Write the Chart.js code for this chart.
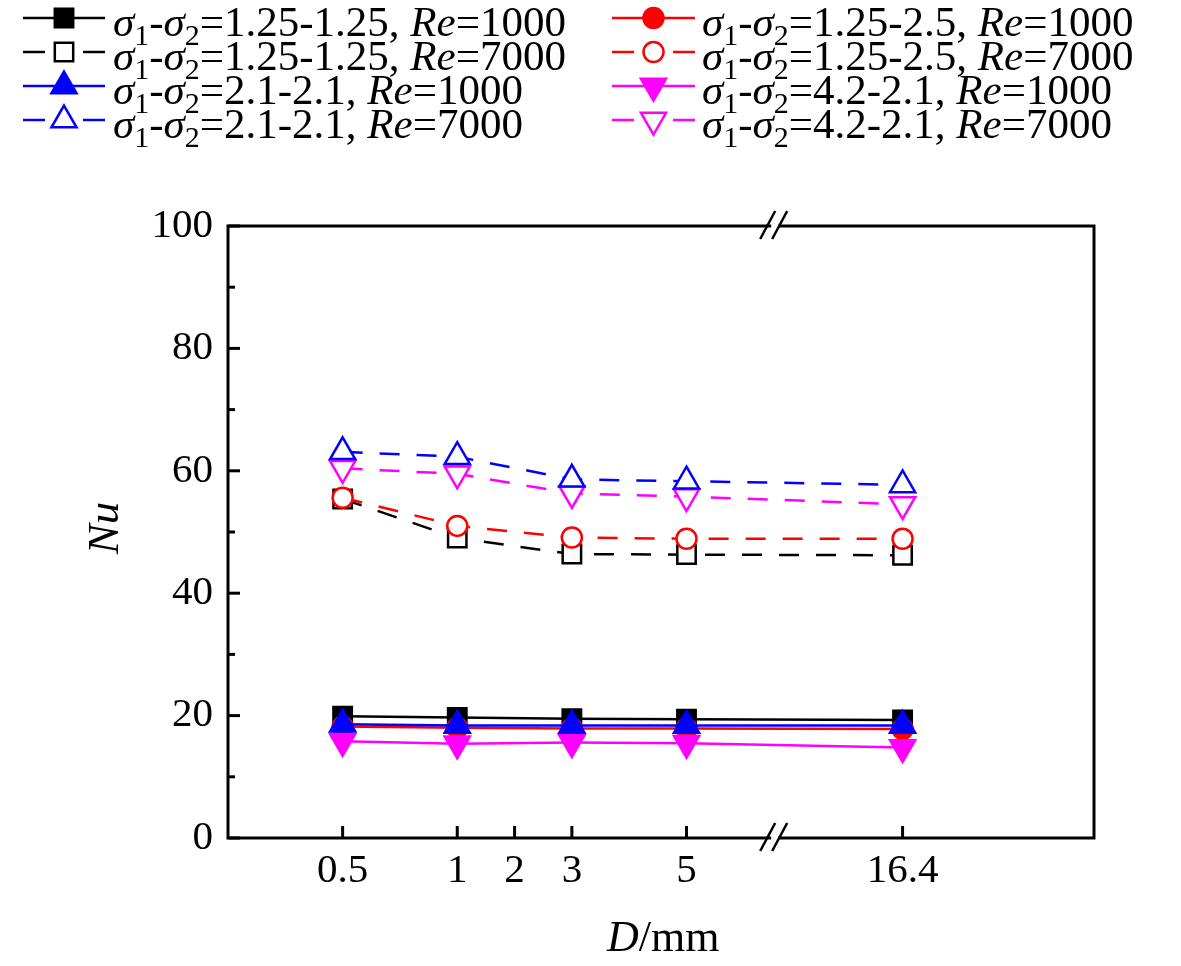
<!DOCTYPE html>
<html>
<head>
<meta charset="utf-8">
<script src="https://cdn.jsdelivr.net/npm/chart.js@4.4.0/dist/chart.umd.min.js"></script>
<style>
  html, body { margin:0; padding:0; background:#fff; }
  #wrap { width:1181px; height:966px; }
</style>
</head>
<body>
<div id="wrap"><canvas id="nuChart" width="1181" height="966"></canvas></div>
<script>
// D values (mm) and the broken x axis
const dValues = [0.5, 1, 3, 5, 16.4];
const tickLabels = ["0.5", "1", "2", "3", "5", "16.4"];
const tickPos = [2, 4, 5, 6, 8, 11.77];   // positions on the broken axis
const breakPos = 9.53;
const xMax = 15.11;

// Nu values
const nuA1000 = [19.9, 19.7, 19.5, 19.4, 19.3];   // 1.25-1.25
const nuA7000 = [55.4, 49.0, 46.4, 46.3, 46.2];
const nuB1000 = [18.6, 18.4, 18.4, 18.4, 18.4];   // 2.1-2.1
const nuB7000 = [63.1, 62.3, 58.6, 58.3, 57.7];
const nuC1000 = [18.2, 18.0, 17.9, 17.9, 17.8];   // 1.25-2.5
const nuC7000 = [55.6, 51.0, 49.1, 48.9, 48.9];
const nuD1000 = [15.8, 15.4, 15.6, 15.5, 14.8];   // 4.2-2.1
const nuD7000 = [60.4, 59.5, 56.3, 55.8, 54.5];

const yTicks = [0, 20, 40, 60, 80, 100];

const FONT = '"Liberation Serif", "Times New Roman", serif';

function pts(vals){
  return vals.map((v,i) => ({ x: tickPos[tickLabels.indexOf(String(dValues[i]))], y: v }));
}

function ds(label, sig, re, vals, color, style, open, order, rot){
  const dashed = re === "7000";
  return {
    label: label, sig: sig, re: re,
    data: pts(vals),
    borderColor: color,
    backgroundColor: open ? "#ffffff" : color,
    pointBorderColor: color,
    pointBackgroundColor: open ? "#ffffff" : color,
    pointStyle: style,
    pointRotation: rot || 0,
    pointRadius: style === "rect" ? 13 : (style === "circle" ? 10 : 14.5),
    pointHoverRadius: 12,
    pointBorderWidth: 2.5,
    borderWidth: 2.5,
    borderDash: dashed ? [20, 17] : [],
    tension: 0,
    fill: false,
    order: order
  };
}

const datasets = [
  ds("σ1-σ2=1.25-1.25, Re=1000", "1.25-1.25", "1000", nuA1000, "#000000", "rect", false, 4),
  ds("σ1-σ2=1.25-1.25, Re=7000", "1.25-1.25", "7000", nuA7000, "#000000", "rect", true, 4),
  ds("σ1-σ2=2.1-2.1, Re=1000", "2.1-2.1", "1000", nuB1000, "#0000ff", "triangle", false, 1),
  ds("σ1-σ2=2.1-2.1, Re=7000", "2.1-2.1", "7000", nuB7000, "#0000ff", "triangle", true, 1),
  ds("σ1-σ2=1.25-2.5, Re=1000", "1.25-2.5", "1000", nuC1000, "#ff0000", "circle", false, 3),
  ds("σ1-σ2=1.25-2.5, Re=7000", "1.25-2.5", "7000", nuC7000, "#ff0000", "circle", true, 3),
  ds("σ1-σ2=4.2-2.1, Re=1000", "4.2-2.1", "1000", nuD1000, "#ff00ff", "triangle", false, 2, 180),
  ds("σ1-σ2=4.2-2.1, Re=7000", "4.2-2.1", "7000", nuD7000, "#ff00ff", "triangle", true, 2, 180)
];

function seg(ctx, x1, y1, x2, y2){
  ctx.beginPath(); ctx.moveTo(x1, y1); ctx.lineTo(x2, y2); ctx.stroke();
}

function richText(ctx, x, y, d){
  const parts = [
    ["σ", "i"], ["1", "s"], ["-", "n"], ["σ", "i"], ["2", "s"],
    ["=" + d.sig + ", ", "n"], ["Re", "i"], ["=" + d.re, "n"]
  ];
  ctx.fillStyle = "#000";
  ctx.textBaseline = "alphabetic";
  ctx.textAlign = "left";
  parts.forEach(p => {
    let dy = 0;
    if (p[1] === "i") ctx.font = "italic 43px " + FONT;
    else if (p[1] === "s") { ctx.font = "30px " + FONT; dy = 9; }
    else ctx.font = "43px " + FONT;
    ctx.fillText(p[0], x, y + dy);
    x += ctx.measureText(p[0]).width;
  });
}

const decor = {
  id: "decor",
  afterDraw(chart){
    const ctx = chart.ctx, a = chart.chartArea;
    const xs = chart.scales.x, ys = chart.scales.y;
    ctx.save();
    ctx.strokeStyle = "#000";
    ctx.lineWidth = 3;
    ctx.setLineDash([]);
    ctx.strokeRect(a.left, a.top, a.right - a.left, a.bottom - a.top);

    // inward ticks
    ys.ticks.forEach(t => {
      const y = ys.getPixelForValue(t.value);
      seg(ctx, a.left, y, a.left + 12, y);
    });
    for (let i = 0; i < yTicks.length - 1; i++){
      const y = ys.getPixelForValue((yTicks[i] + yTicks[i+1]) / 2);
      seg(ctx, a.left, y, a.left + 7, y);
    }
    xs.ticks.forEach(t => {
      const x = xs.getPixelForValue(t.value);
      seg(ctx, x, a.bottom, x, a.bottom - 12);
    });

    // axis break marks
    const xb = xs.getPixelForValue(breakPos);
    [a.top, a.bottom].forEach(y => {
      ctx.fillStyle = "#fff";
      ctx.fillRect(xb - 3, y - 3, 7, 6);
      ctx.lineWidth = 2.5;
      seg(ctx, xb - 14, y + 13, xb + 1, y - 15);
      seg(ctx, xb - 2, y + 13, xb + 13, y - 15);
    });

    // legend
    const cols = [{lx1: 23, lx2: 105, tx: 113}, {lx1: 612, lx2: 695, tx: 702}];
    const rowY = [18, 52, 86, 120];
    chart.data.datasets.forEach((d, i) => {
      const c = cols[Math.floor(i / 4)];
      const y = rowY[i % 4];
      const mx = (c.lx1 + c.lx2) / 2;
      ctx.strokeStyle = d.borderColor;
      ctx.lineWidth = 2.5;
      if (d.borderDash.length){
        seg(ctx, c.lx1, y, c.lx1 + 22, y);
        seg(ctx, c.lx2 - 22, y, c.lx2, y);
      } else {
        seg(ctx, c.lx1, y, c.lx2, y);
      }
      ctx.fillStyle = d.pointBackgroundColor;
      ctx.strokeStyle = d.pointBorderColor;
      Chart.helpers.drawPoint(ctx, {
        pointStyle: d.pointStyle, rotation: d.pointRotation,
        radius: d.pointRadius, borderWidth: 2.5
      }, mx, y);
      richText(ctx, c.tx, y + 18, d);
    });

    // axis titles
    ctx.fillStyle = "#000";
    ctx.save();
    ctx.translate(118, 528);
    ctx.rotate(-Math.PI / 2);
    ctx.font = "italic 45px " + FONT;
    ctx.textAlign = "center";
    ctx.textBaseline = "alphabetic";
    ctx.fillText("Nu", 0, 0);
    ctx.restore();

    ctx.textAlign = "left";
    ctx.textBaseline = "alphabetic";
    ctx.font = "italic 44px " + FONT;
    let tx = 607;
    ctx.fillText("D", tx, 951);
    tx += ctx.measureText("D").width;
    ctx.font = "44px " + FONT;
    ctx.fillText("/mm", tx, 951);
    ctx.restore();
  }
};

new Chart(document.getElementById("nuChart"), {
  type: "line",
  data: { datasets: datasets },
  plugins: [decor],
  options: {
    responsive: false,
    animation: false,
    devicePixelRatio: 1,
    layout: { padding: { top: 226, right: 87, left: 0, bottom: 0 } },
    plugins: { legend: { display: false }, tooltip: { enabled: false } },
    scales: {
      x: {
        type: "linear",
        min: 0, max: xMax,
        grid: { display: false, drawTicks: false },
        border: { display: false },
        afterBuildTicks: s => { s.ticks = tickPos.map(v => ({ value: v })); },
        afterFit: s => { s.height = 128; },
        ticks: {
          autoSkip: false, maxRotation: 0, padding: 9,
          color: "#000", font: { family: FONT, size: 41 },
          callback: v => tickLabels[tickPos.indexOf(v)]
        }
      },
      y: {
        min: 0, max: 100,
        grid: { display: false, drawTicks: false },
        border: { display: false },
        afterBuildTicks: s => { s.ticks = yTicks.map(v => ({ value: v })); },
        afterFit: s => { s.width = 228; },
        ticks: {
          padding: 15, color: "#000", font: { family: FONT, size: 41 }
        }
      }
    }
  }
});
</script>
</body>
</html>
